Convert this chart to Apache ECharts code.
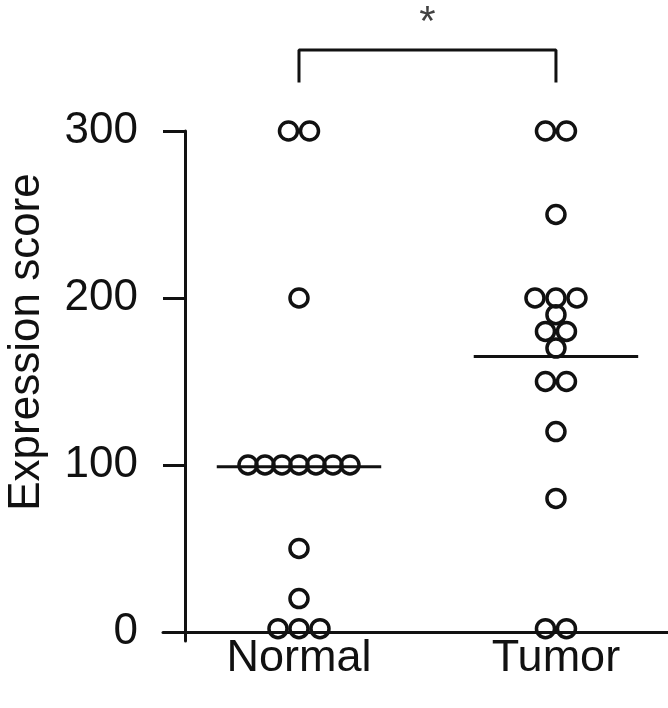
<!DOCTYPE html>
<html>
<head>
    <meta charset="UTF-8">
    <title>Expression score</title>
    <script src="https://cdn.jsdelivr.net/npm/echarts@6/dist/echarts.min.js"></script>
    <style>
        html, body { margin: 0; padding: 0; background: #fff; }
        #main { width: 668px; height: 708px; }
    </style>
</head>
<body>
<div id="main"></div>
<script>
    // 数据
    var categories = ['Normal', 'Tumor'];
    var normalScores = [300, 300, 200, 100, 100, 100, 100, 100, 100, 100, 50, 20, 2, 2, 2];
    var tumorScores = [300, 300, 250, 200, 200, 200, 190, 180, 180, 170, 150, 150, 120, 80, 2, 2];
    var centerLines = [99, 165];       // 横线 (Normal, Tumor)
    var yTicks = [0, 100, 200, 300];
    var bracket = { low: 330, high: 348.5, label: '*' };

    var ink = '#111111';
    var font = '"Liberation Sans", Arial, Helvetica, sans-serif';

    // 相同数值的点横向排开 (beeswarm)
    function swarm(scores, xPos) {
        var counts = {}, seen = {};
        scores.forEach(function (v) { counts[v] = (counts[v] || 0) + 1; });
        return scores.map(function (v) {
            var n = counts[v];
            var i = seen[v] = (seen[v] === undefined ? 0 : seen[v] + 1);
            var gap = n >= 5 ? 17 : 21;
            return { value: [xPos, v], symbolOffset: [(i - (n - 1) / 2) * gap, 0] };
        });
    }

    var myChart = echarts.init(document.getElementById('main'));

    var dotStyle = { color: 'rgba(0,0,0,0)', borderColor: ink, borderWidth: 3.5, opacity: 1 };
    var series = [];
    [normalScores, tumorScores].forEach(function (arr, k) {
        series.push({
            type: 'scatter',
            data: swarm(arr, k + 1),
            symbol: 'circle',
            symbolSize: 18,
            itemStyle: dotStyle,
            z: 3
        });
        series.push({
            type: 'line',
            data: [[k + 1 - 0.32, centerLines[k]], [k + 1 + 0.32, centerLines[k]]],
            symbol: 'none',
            lineStyle: { color: ink, width: 3 },
            z: 2
        });
    });
    // 显著性标记
    series.push({
        type: 'line',
        data: [[1, bracket.low], [1, bracket.high], [2, bracket.high], [2, bracket.low]],
        symbol: 'none',
        clip: false,
        lineStyle: { color: ink, width: 3, cap: 'square' }
    });
    series.push({
        type: 'scatter',
        data: [[1.5, bracket.high + 16]],
        symbolSize: 1,
        clip: false,
        itemStyle: { color: 'rgba(0,0,0,0)' },
        label: {
            show: true, position: 'inside', formatter: bracket.label,
            fontSize: 42, color: ink, fontFamily: font
        }
    });

    var option = {
        animation: false,
        grid: { left: 163, right: 0, top: 131, bottom: 67, containLabel: false, outerBoundsMode: 'none' },
        xAxis: {
            type: 'value',
            min: 0.4708,
            max: 2.436,
            axisLine: { onZero: true, lineStyle: { color: ink, width: 3 } },
            axisTick: { show: true, customValues: [0.5564], length: 9, lineStyle: { color: ink, width: 3 } },
            axisLabel: {
                customValues: [1, 2],
                formatter: function (v) { return categories[Math.round(v) - 1]; },
                fontSize: 45, color: ink, fontFamily: font, margin: -5
            },
            splitLine: { show: false }
        },
        yAxis: {
            type: 'value',
            min: -5.4,
            max: 300,
            offset: -22,
            axisLine: { show: true, onZero: false, lineStyle: { color: ink, width: 3 } },
            axisTick: { show: true, customValues: yTicks, length: 22, lineStyle: { color: ink, width: 3 } },
            axisLabel: {
                customValues: yTicks,
                fontSize: 44, color: ink, fontFamily: font, margin: 47
            },
            splitLine: { show: false }
        },
        graphic: [{
            type: 'text',
            x: 27, y: 342,
            rotation: Math.PI / 2,
            style: {
                text: 'Expression score',
                fill: ink,
                font: '44px ' + font,
                align: 'center',
                verticalAlign: 'middle'
            }
        }],
        series: series
    };

    myChart.setOption(option);
</script>
</body>
</html>
